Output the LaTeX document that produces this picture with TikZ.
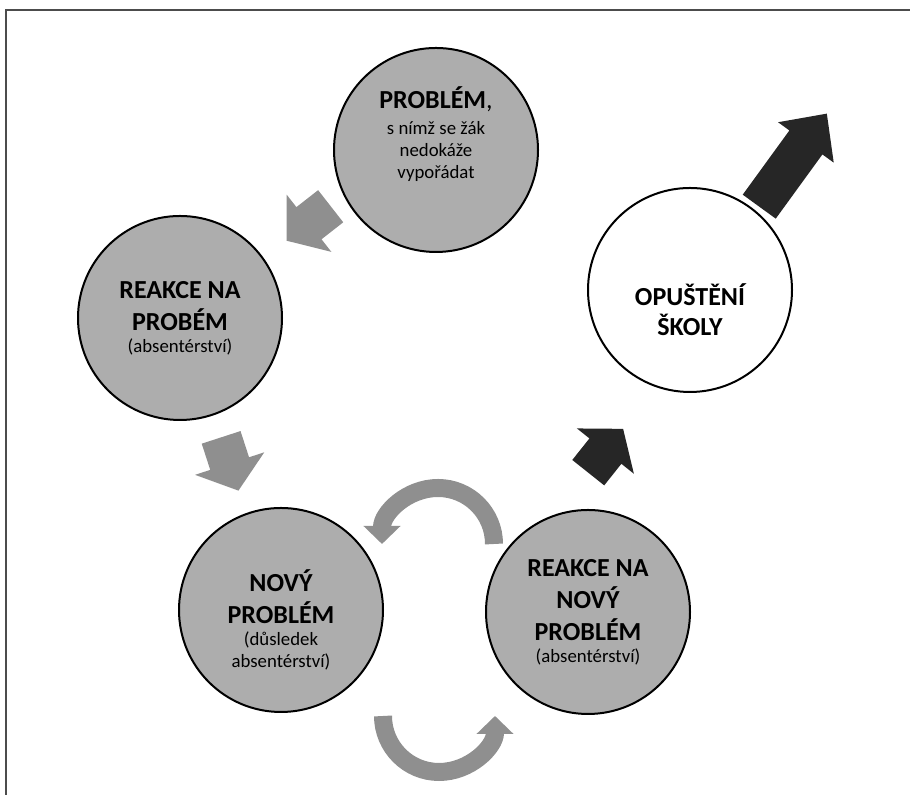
\documentclass[tikz,border=0pt]{standalone}
\usepackage{fontspec}
\setmainfont{Carlito}
\usetikzlibrary{positioning, shapes.arrows, arrows.meta}

\definecolor{bubblegray}{RGB}{173,173,173}
\definecolor{arrowgray}{RGB}{143,143,143}
\definecolor{arrowblack}{RGB}{38,38,38}
\newcommand{\bigtxt}[1]{{\fontsize{13}{15}\selectfont\bfseries #1}}

\begin{document}
\begin{tikzpicture}[x=0.5pt, y=0.5pt,
    bubble/.style={circle, draw, line width=1pt, fill=bubblegray, minimum size=102pt, inner sep=0pt},
    txt/.style={align=center, font=\fontsize{9.4}{11}\selectfont},
    flowarrow/.style={single arrow, draw=none, fill=arrowgray, inner xsep=0pt, inner ysep=10pt, anchor=tail,
        minimum height=28pt, single arrow head extend=8pt, single arrow tip angle=104},
    exitarrow/.style={flowarrow, fill=arrowblack},
    cyclearrow/.style={line width=9pt, draw=arrowgray, -{Triangle[length=9pt, width=18pt]}}]
        \useasboundingbox (0,0) rectangle (910,795);
        \draw[line width=1pt, black!70] (6,0) -- (6,785) -- (910,785);

        % circles
        \node[bubble] (prob) at (436,645) {};
        \node[bubble] (reakce) at (180,477) {};
        \node[bubble] (novy) at (281,185) {};
        \node[bubble] (reakcenovy) at (588,183) {};
        \node[bubble, fill=white] (odchod) at (690,505) {};

        \node[txt] (probtxt) at ([yshift=8pt]prob.center) {\bigtxt{PROBLÉM}{\fontsize{13}{15}\selectfont,}\\[2pt] s nímž se žák\\ nedokáže\\ vypořádat};
        \node[txt] (reakcetxt) at (reakce.center) {\bigtxt{REAKCE NA}\\[4pt] \bigtxt{PROBÉM}\\ (absentérství)};
        \node[txt] (novytxt) at ([yshift=-5pt]novy.center) {\bigtxt{NOVÝ}\\[4pt] \bigtxt{PROBLÉM}\\ (důsledek\\ absentérství)};
        \node[txt] (reakcenovytxt) at (reakcenovy.center) {\bigtxt{REAKCE NA}\\[4pt] \bigtxt{NOVÝ}\\[4pt] \bigtxt{PROBLÉM}\\ (absentérství)};
        \node[txt] (odchodtxt) at ([yshift=-10pt]odchod.center) {\bigtxt{OPUŠTĚNÍ}\\[4pt] \bigtxt{ŠKOLY}};

        % block arrows
        \node[flowarrow, rotate=218] (a1) at (331,589) {};
        \node[flowarrow, rotate=288] (a2) at (221,358) {};
        \node[exitarrow, rotate=51.5] (a3) at (588,322) {};
        \node[exitarrow, rotate=54, minimum height=57.5pt,
            single arrow head extend=7pt, single arrow tip angle=88] (a4) at (759,588) {};

        % round arrows between the two lower circles
        \coordinate (looptop) at (494,251);
        \coordinate (loopbottom) at (383,79);
        \draw[cyclearrow] (looptop) arc[start angle=0, end angle=180, radius=28pt];
        \draw[cyclearrow] (loopbottom) arc[start angle=180, end angle=360, radius=28pt];
    \end{tikzpicture}
\end{document}
